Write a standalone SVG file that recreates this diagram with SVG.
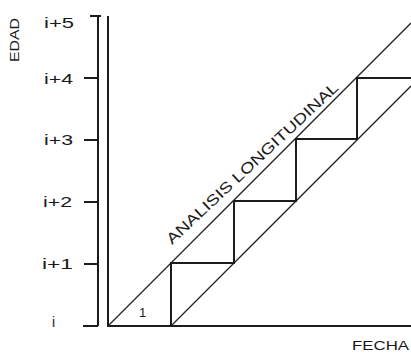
<svg xmlns="http://www.w3.org/2000/svg" width="411" height="353" viewBox="0 0 411 353">
<style>
.ax{stroke:#1c1c1c;stroke-width:2;fill:none}
.dg{stroke:#222;stroke-width:1.3;fill:none}
.st{stroke:#1c1c1c;stroke-width:2;fill:none;stroke-linejoin:miter}
.lb{font-family:"Liberation Sans",Arial,sans-serif;fill:#1a1a1a}
.tk{font-size:14px}
</style>
<rect width="411" height="353" fill="#fff"/>
<g id="axes">
<path class="ax" d="M98 16V326M90 16H101M84 78H98M84 140H98M84 202H98M84 264H98M83 326H98"/>
<path class="ax" d="M108 16V326H411"/>
</g>
<g id="connectors">
<path class="dg" d="M108 326L411 23"/>
<path class="dg" d="M171 326L411 86"/>
<path class="st" d="M171 326V263H234V201H296V139H357V78H411"/>
</g>
<g id="ticks">
<text class="lb tk" x="44" y="28" textLength="30" lengthAdjust="spacingAndGlyphs">i+5</text>
<text class="lb tk" x="44" y="84" textLength="29" lengthAdjust="spacingAndGlyphs">i+4</text>
<text class="lb tk" x="44" y="145" textLength="29" lengthAdjust="spacingAndGlyphs">i+3</text>
<text class="lb tk" x="43" y="207" textLength="29" lengthAdjust="spacingAndGlyphs">i+2</text>
<text class="lb tk" x="42" y="269" textLength="31" lengthAdjust="spacingAndGlyphs">i+1</text>
<text class="lb tk" x="52" y="327">i</text>
</g>
<g id="label-edad">
<text class="lb" font-size="12" text-anchor="middle" transform="translate(19 40) rotate(-90)" textLength="44" lengthAdjust="spacingAndGlyphs">EDAD</text>
</g>
<g id="label-fecha">
<text class="lb" font-size="12" x="352" y="350" textLength="57" lengthAdjust="spacingAndGlyphs">FECHA</text>
</g>
<g id="label-one">
<text class="lb" font-size="13" x="139" y="317">1</text>
</g>
<g id="label-analisis">
<text class="lb" font-size="15" transform="translate(172 245) rotate(-43)" textLength="229" lengthAdjust="spacingAndGlyphs">ANALISIS LONGITUDINAL</text>
</g>
</svg>
